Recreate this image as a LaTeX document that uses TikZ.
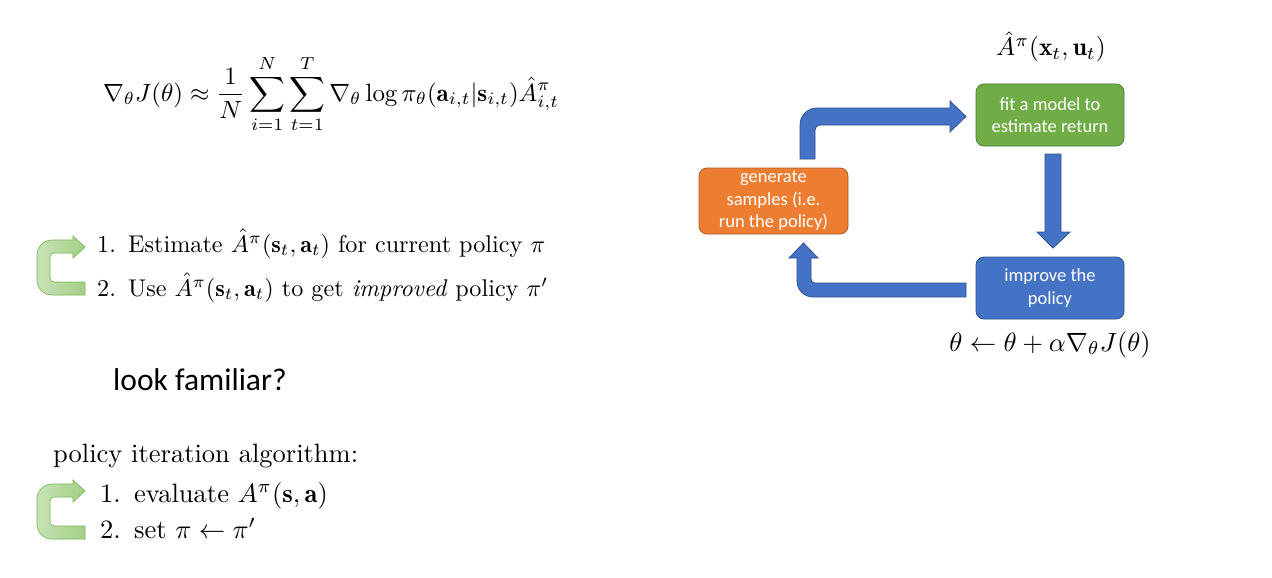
\documentclass[tikz,border=0pt]{standalone}
\usepackage{amsmath}
\usepackage{graphicx}
\usepackage{fontspec}
\newfontfamily\slidefont{Carlito}
\usetikzlibrary{calc}

\definecolor{flowblue}{HTML}{4472C4}
\definecolor{flowblueedge}{HTML}{2F528F}
\definecolor{fitgreen}{HTML}{70AD47}
\definecolor{fitgreenedge}{HTML}{507E32}
\definecolor{genorange}{HTML}{ED7D31}
\definecolor{genorangeedge}{HTML}{AE5A21}
\definecolor{loopleft}{HTML}{C8E2B6}
\definecolor{loopright}{HTML}{A3CF85}
\definecolor{loopedge}{HTML}{7DB85A}

\begin{document}
\begin{tikzpicture}[x=1pt,y=-1pt,
  stage/.style 2 args={rectangle, rounded corners=8pt, fill=#1, draw=#2,
    line width=0.8pt, text=white, align=center, inner sep=0pt,
    font=\slidefont\fontsize{18.5}{22.5}\selectfont},
  blockarrow/.style={fill=flowblue, draw=flowblueedge, line width=0.8pt},
  looparrow/.style={left color=loopleft, right color=loopright,
    draw=loopedge, line width=0.7pt},
  txt/.style={inner sep=0pt, anchor=base west},
  mathlbl/.style={inner sep=0pt, anchor=base}]

\useasboundingbox (0,0) rectangle (1272,578);
\fill[white] (0,0) rectangle (1272,578);

% policy gradient estimator
\node[txt] (grad) at (103,101)
  {\scalebox{2.49}{$\displaystyle \nabla_\theta J(\theta)\approx\frac{1}{N}\sum_{i=1}^{N}\sum_{t=1}^{T}\nabla_\theta\log\pi_\theta(\mathbf{a}_{i,t}|\mathbf{s}_{i,t})\hat{A}^\pi_{i,t}$}};

% two-step loop
\node[txt] (stepA) at (97,252)
  {\scalebox{2.42}{1.\hspace{0.5em}Estimate $\hat{A}^\pi(\mathbf{s}_t,\mathbf{a}_t)$ for current policy $\pi$}};
\node[txt] (stepB) at (97,296)
  {\scalebox{2.42}{2.\hspace{0.5em}Use $\hat{A}^\pi(\mathbf{s}_t,\mathbf{a}_t)$ to get \textit{improved} policy $\pi'$}};

\node[txt, font=\slidefont\fontsize{31.5}{36}\selectfont] (ask) at (113,390) {look familiar?};

% policy iteration
\node[txt] (pihead) at (53,462)
  {\scalebox{2.65}{policy iteration algorithm:}};
\node[txt] (piA) at (100,502)
  {\scalebox{2.65}{1.\hspace{0.5em}evaluate $A^\pi(\mathbf{s},\mathbf{a})$}};
\node[txt] (piB) at (100,538)
  {\scalebox{2.65}{2.\hspace{0.5em}set $\pi\leftarrow\pi'$}};

% curved loop arrows beside the step lists
\foreach \dy/\nm in {0/loopA, 244/loopB}{
  \begin{scope}[shift={(0,\dy)}]
    \path[looparrow] (85,282) -- (85,295) -- (52,295)
      .. controls (43.7,295) and (37,288.3) .. (37,280) -- (37,255)
      .. controls (37,246.7) and (43.7,240) .. (52,240) -- (73,240)
      -- (73,236) -- (85,247) -- (73,258) -- (73,253) -- (54,253)
      .. controls (51.8,253) and (50,254.8) .. (50,257) -- (50,278)
      .. controls (50,280.2) and (51.8,282) .. (54,282) -- cycle;
    \coordinate (\nm) at (61,265);
  \end{scope}
}

% RL loop
\node[stage={genorange}{genorangeedge}, minimum width=149pt, minimum height=66pt]
  (gen) at (773.5,201) {generate\\samples (i.e.\\run the policy)};
\node[stage={fitgreen}{fitgreenedge}, minimum width=148pt, minimum height=62pt]
  (fit) at (1050,115) {fit a model to\\estimate return};
\node[stage={flowblue}{flowblueedge}, minimum width=148pt, minimum height=62pt]
  (imp) at (1050,288) {improve the\\policy};

\node[mathlbl] (adv) at (1051,56)
  {\scalebox{2.55}{$\hat{A}^\pi(\mathbf{x}_t,\mathbf{u}_t)$}};
\node[mathlbl] (upd) at (1050,351)
  {\scalebox{2.64}{$\theta\leftarrow\theta+\alpha\nabla_\theta J(\theta)$}};

% generate -> fit
\path[blockarrow] (800,159) -- (800,125)
  .. controls (800,115.6) and (807.6,108) .. (817,108) -- (950,108)
  -- (950,101) -- (966,116.5) -- (950,132) -- (950,125) -- (820,125)
  .. controls (817.2,125) and (815,127.2) .. (815,130) -- (815,159) -- cycle;
% fit -> improve
\path[blockarrow] (1045,154) -- (1061,154) -- (1061,232) -- (1070,232)
  -- (1053,248) -- (1037,232) -- (1045,232) -- cycle;
% improve -> generate
\path[blockarrow] (966,283) -- (966,297) -- (813,297)
  .. controls (804.2,297) and (797,289.8) .. (797,281) -- (797,258)
  -- (789,258) -- (803.5,243) -- (818,258) -- (811,258) -- (811,279)
  .. controls (811,281.2) and (812.8,283) .. (815,283) -- cycle;

\end{tikzpicture}
\end{document}
